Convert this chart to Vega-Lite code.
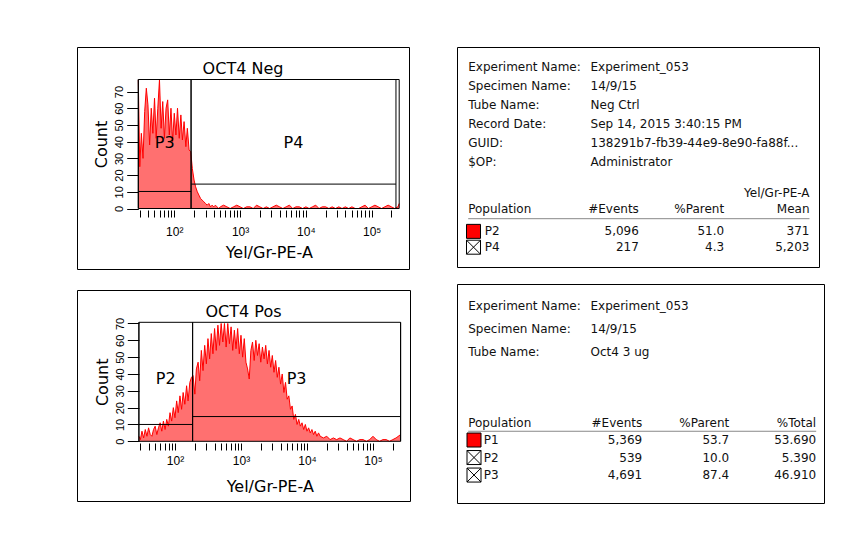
{
  "$schema": "https://vega.github.io/schema/vega-lite/v6.json",
  "padding": {"left": 76, "top": 46, "right": 4, "bottom": 4},
  "background": "white",
  "config": {
    "font": "DejaVu Sans",
    "view": {"stroke": "#000", "strokeWidth": 1},
    "text": {"font": "DejaVu Sans", "fontSize": 12, "color": "#111"},
    "title": {"font": "DejaVu Sans", "fontSize": 16, "fontWeight": "normal", "color": "#000", "anchor": "middle", "frame": "group"},
    "axis": {"labelFont": "DejaVu Sans", "titleFont": "DejaVu Sans", "titleFontWeight": "normal", "labelColor": "#000", "titleColor": "#000", "tickColor": "#000", "domain": false, "grid": false, "labelFontSize": 11, "titleFontSize": 16, "labelOverlap": false, "labelBound": false, "labelFlush": false},
    "axisY": {"tickCount": 8, "labelOverlap": false}
  },
  "datasets": {
    "neg": [
      {"v":28.4,"c":77},{"v":29.9,"c":25},{"v":31.6,"c":45},{"v":33.5,"c":30},{"v":35.5,"c":58},{"v":37.6,"c":72},{"v":39.8,"c":62},{"v":42.2,"c":38},{"v":44.7,"c":60},{"v":47.3,"c":45},{"v":50.1,"c":66},{"v":53.1,"c":42},{"v":56.2,"c":60},{"v":59.6,"c":77},{"v":63.1,"c":48},{"v":66.8,"c":64},{"v":70.8,"c":42},{"v":75,"c":60},{"v":79.4,"c":65},{"v":84.1,"c":44},{"v":89.1,"c":60},{"v":94.4,"c":40},{"v":100,"c":57},{"v":106,"c":44},{"v":112,"c":60},{"v":119,"c":42},{"v":126,"c":56},{"v":133,"c":41},{"v":141,"c":52},{"v":150,"c":37},{"v":158,"c":48},{"v":168,"c":35},{"v":178,"c":34},{"v":188,"c":24},{"v":200,"c":17},{"v":211,"c":13},{"v":224,"c":10},{"v":237,"c":8},{"v":251,"c":6},{"v":266,"c":5},{"v":282,"c":4},{"v":299,"c":3},{"v":316,"c":2},{"v":335,"c":3},{"v":355,"c":1},{"v":376,"c":2},{"v":398,"c":1},{"v":422,"c":2},{"v":447,"c":1},{"v":473,"c":0},
      {"v":501,"c":1},{"v":562,"c":2},{"v":631,"c":1},{"v":708,"c":0},{"v":794,"c":1},{"v":891,"c":2},{"v":1000,"c":1},{"v":1122,"c":0},{"v":1259,"c":1},{"v":1413,"c":1},{"v":1585,"c":0},{"v":1778,"c":2},{"v":1995,"c":1},{"v":2239,"c":0},{"v":2512,"c":1},{"v":2818,"c":0},{"v":3162,"c":1},{"v":3548,"c":2},{"v":3981,"c":1},{"v":4467,"c":0},{"v":5012,"c":1},{"v":5623,"c":2},{"v":6310,"c":0},{"v":7079,"c":1},{"v":7943,"c":1},{"v":8913,"c":0},{"v":10000,"c":1},{"v":11220,"c":0},{"v":12589,"c":1},{"v":14125,"c":2},{"v":15849,"c":0},{"v":17783,"c":1},{"v":19953,"c":1},{"v":22387,"c":0},{"v":25119,"c":1},{"v":28184,"c":0},{"v":31623,"c":1},{"v":35481,"c":0},{"v":39811,"c":1},{"v":44668,"c":0},{"v":50119,"c":1},{"v":56234,"c":0},{"v":63096,"c":0},{"v":70795,"c":1},{"v":79433,"c":2},{"v":89125,"c":0},{"v":100000,"c":1},{"v":112202,"c":2},{"v":125893,"c":1},{"v":141254,"c":0},{"v":158489,"c":1},{"v":177828,"c":2},{"v":199526,"c":1},{"v":223872,"c":0},{"v":251189,"c":1},{"v":262144,"c":3}
    ],
    "pos": [
      {"v":28.4,"c":3},{"v":29.9,"c":1},{"v":31.6,"c":6},{"v":33.5,"c":2},{"v":35.5,"c":7},{"v":37.6,"c":3},{"v":39.8,"c":8},{"v":42.2,"c":4},{"v":44.7,"c":3},{"v":47.3,"c":7},{"v":50.1,"c":9},{"v":53.1,"c":4},{"v":56.2,"c":8},{"v":59.6,"c":11},{"v":63.1,"c":6},{"v":66.8,"c":12},{"v":70.8,"c":7},{"v":75,"c":13},{"v":79.4,"c":9},{"v":84.1,"c":17},{"v":89.1,"c":12},{"v":94.4,"c":20},{"v":100,"c":14},{"v":106,"c":24},{"v":112,"c":17},{"v":119,"c":27},{"v":126,"c":19},{"v":133,"c":29},{"v":141,"c":22},{"v":150,"c":33},{"v":158,"c":24},{"v":168,"c":35},{"v":178,"c":38},{"v":188,"c":39},{"v":200,"c":28},{"v":211,"c":43},{"v":224,"c":47},{"v":237,"c":36},{"v":251,"c":54},{"v":266,"c":42},{"v":282,"c":57},{"v":299,"c":46},{"v":316,"c":61},{"v":335,"c":49},{"v":355,"c":64},{"v":376,"c":52},{"v":398,"c":67},{"v":422,"c":54},{"v":447,"c":69},{"v":473,"c":57},{"v":501,"c":70},{"v":531,"c":59},{"v":562,"c":70},{"v":596,"c":56},{"v":631,"c":70},{"v":668,"c":58},{"v":708,"c":68},{"v":750,"c":54},{"v":794,"c":66},{"v":841,"c":55},{"v":891,"c":67},{"v":944,"c":52},{"v":1000,"c":63},{"v":1059,"c":50},{"v":1122,"c":61},{"v":1189,"c":47},{"v":1259,"c":43},{"v":1334,"c":37},{"v":1413,"c":54},{"v":1496,"c":59},{"v":1585,"c":48},{"v":1679,"c":60},{"v":1778,"c":51},{"v":1884,"c":58},{"v":1995,"c":47},{"v":2113,"c":56},{"v":2239,"c":49},{"v":2371,"c":57},{"v":2512,"c":46},{"v":2661,"c":54},{"v":2818,"c":44},{"v":2985,"c":51},{"v":3162,"c":41},{"v":3350,"c":48},{"v":3548,"c":38},{"v":3758,"c":44},{"v":3981,"c":34},{"v":4217,"c":40},{"v":4467,"c":29},{"v":4732,"c":35},{"v":5012,"c":25},{"v":5309,"c":27},{"v":5623,"c":19},{"v":5957,"c":21},{"v":6310,"c":13},{"v":6683,"c":16},{"v":7079,"c":10},{"v":7499,"c":13},{"v":7943,"c":9},{"v":8414,"c":11},{"v":8913,"c":7},{"v":9441,"c":10},{"v":10000,"c":6},{"v":10593,"c":8},{"v":11220,"c":5},{"v":11885,"c":7},{"v":12589,"c":4},{"v":13335,"c":6},{"v":14125,"c":3},{"v":14962,"c":5},{"v":15849,"c":3},
      {"v":17783,"c":2},{"v":19953,"c":3},{"v":22387,"c":1},{"v":25119,"c":2},{"v":28184,"c":1},{"v":31623,"c":2},{"v":35481,"c":1},{"v":39811,"c":0},{"v":44668,"c":2},{"v":50119,"c":1},{"v":56234,"c":0},{"v":63096,"c":1},{"v":70795,"c":1},{"v":79433,"c":0},{"v":89125,"c":1},{"v":100000,"c":3},{"v":112202,"c":1},{"v":125893,"c":0},{"v":141254,"c":1},{"v":158489,"c":1},{"v":177828,"c":0},{"v":199526,"c":1},{"v":223872,"c":2},{"v":262144,"c":4}
    ],
    "negGates": [
      {"gate":"P3","lo":28.4,"hi":180,"level":10.2},
      {"gate":"P4","lo":180,"hi":234000,"level":14.6}
    ],
    "posGates": [
      {"gate":"P2","lo":28.4,"hi":185,"level":10},
      {"gate":"P3","lo":185,"hi":262144,"level":14.7}
    ],
    "negTable": [
      {"line":0,"col":"label","text":"Experiment Name:"},{"line":0,"col":"value","text":"Experiment_053"},
      {"line":6,"col":"label","text":"Specimen Name:"},{"line":6,"col":"value","text":"14/9/15"},
      {"line":12,"col":"label","text":"Tube Name:"},{"line":12,"col":"value","text":"Neg Ctrl"},
      {"line":18,"col":"label","text":"Record Date:"},{"line":18,"col":"value","text":"Sep 14, 2015 3:40:15 PM"},
      {"line":24,"col":"label","text":"GUID:"},{"line":24,"col":"value","text":"138291b7-fb39-44e9-8e90-fa88f..."},
      {"line":30,"col":"label","text":"$OP:"},{"line":30,"col":"value","text":"Administrator"},
      {"line":40,"col":"stat","text":"Yel/Gr-PE-A"},
      {"line":45,"col":"label","text":"Population"},{"line":45,"col":"events","text":"#Events"},{"line":45,"col":"parent","text":"%Parent"},{"line":45,"col":"stat","text":"Mean"},
      {"line":52,"col":"events","text":"5,096"},{"line":52,"col":"parent","text":"51.0"},{"line":52,"col":"stat","text":"371"},
      {"line":57,"col":"events","text":"217"},{"line":57,"col":"parent","text":"4.3"},{"line":57,"col":"stat","text":"5,203"}
    ],
    "negPops": [
      {"line":52,"pop":"P2","display":"colored"},
      {"line":57,"pop":"P4","display":"hidden"}
    ],
    "posTable": [
      {"line":0,"col":"label","text":"Experiment Name:"},{"line":0,"col":"value","text":"Experiment_053"},
      {"line":4,"col":"label","text":"Specimen Name:"},{"line":4,"col":"value","text":"14/9/15"},
      {"line":8,"col":"label","text":"Tube Name:"},{"line":8,"col":"value","text":"Oct4 3 ug"},
      {"line":20,"col":"label","text":"Population"},{"line":20,"col":"events","text":"#Events"},{"line":20,"col":"parent","text":"%Parent"},{"line":20,"col":"stat","text":"%Total"},
      {"line":23,"col":"events","text":"5,369"},{"line":23,"col":"parent","text":"53.7"},{"line":23,"col":"stat","text":"53.690"},
      {"line":26,"col":"events","text":"539"},{"line":26,"col":"parent","text":"10.0"},{"line":26,"col":"stat","text":"5.390"},
      {"line":29,"col":"events","text":"4,691"},{"line":29,"col":"parent","text":"87.4"},{"line":29,"col":"stat","text":"46.910"}
    ],
    "posPops": [
      {"line":23,"pop":"P1","display":"colored"},
      {"line":26,"pop":"P2","display":"hidden"},
      {"line":29,"pop":"P3","display":"hidden"}
    ]
  },
  "spacing": 45,
  "hconcat": [
    {
      "spacing": 19,
      "vconcat": [
        {
          "width": 332, "height": 222,
          "title": {"text": "OCT4 Neg", "offset": -30},
          "layer": [
            {"data": {"name": "neg"}, "mark": {"type": "area", "color": "#ff7070", "clip": true},
             "encoding": {
               "x": {"field": "v", "type": "quantitative", "scale": {"type": "log", "domain": [28.4, 262144], "range": [61.3, 322.2], "nice": false},
                     "axis": {"title": "Yel/Gr-PE-A", "offset": -59, "tickSize": 7, "labelPadding": 9, "titlePadding": 7, "labelFont": "Liberation Sans", "labelFontSize": 12, "labelOverlap": false,
                              "values": [30,40,50,60,70,80,90,100,200,300,400,500,600,700,800,900,1000,2000,3000,4000,5000,6000,7000,8000,9000,10000,20000,30000,40000,50000,60000,70000,80000,90000,100000,200000],
                              "labelExpr": "datum.value == 100 ? '10²' : datum.value == 1000 ? '10³' : datum.value == 10000 ? '10⁴' : datum.value == 100000 ? '10⁵' : ''"}},
               "y": {"field": "c", "type": "quantitative", "scale": {"domain": [0, 77.2], "range": [161.5, 32.5], "nice": false, "zero": false},
                     "axis": {"title": "Count", "offset": -61.3, "tickSize": 11.6, "values": [0,10,20,30,40,50,60,70], "tickCount": 8, "labelOverlap": false, "labelAngle": -90, "labelAlign": "center", "labelBaseline": "bottom", "labelPadding": 2, "titlePadding": 4, "labelFont": "Liberation Sans"}}
             }},
            {"data": {"name": "neg"}, "mark": {"type": "line", "color": "#ff0000", "strokeWidth": 1, "clip": true},
             "encoding": {
               "x": {"field": "v", "type": "quantitative", "scale": {"type": "log", "domain": [28.4, 262144], "range": [61.3, 322.2], "nice": false}},
               "y": {"field": "c", "type": "quantitative", "scale": {"domain": [0, 77.2], "range": [161.5, 32.5], "nice": false, "zero": false},
                     "axis": {"title": "Count", "offset": -61.3, "tickSize": 11.6, "values": [0,10,20,30,40,50,60,70], "tickCount": 8, "labelOverlap": false, "labelAngle": -90, "labelAlign": "center", "labelBaseline": "bottom", "labelPadding": 2, "titlePadding": 4, "labelFont": "Liberation Sans"}}
             }},
            {"data": {"values": [{}]}, "mark": {"type": "rect", "filled": false, "stroke": "#000", "strokeWidth": 1},
             "encoding": {
               "x": {"datum": 28.4, "type": "quantitative", "scale": {"type": "log", "domain": [28.4, 262144], "range": [61.3, 322.2], "nice": false}},
               "x2": {"datum": 262144},
               "y": {"datum": 0, "type": "quantitative", "scale": {"domain": [0, 77.2], "range": [161.5, 32.5], "nice": false, "zero": false}},
               "y2": {"datum": 77.2}
             }},
            {"data": {"name": "negGates"}, "mark": {"type": "rule", "color": "#000", "strokeWidth": 1},
             "encoding": {
               "x": {"field": "lo", "type": "quantitative", "scale": {"type": "log", "domain": [28.4, 262144], "range": [61.3, 322.2], "nice": false}},
               "y": {"datum": 0, "type": "quantitative", "scale": {"domain": [0, 77.2], "range": [161.5, 32.5], "nice": false, "zero": false}},
               "y2": {"datum": 77.2}
             }},
            {"data": {"name": "negGates"}, "mark": {"type": "rule", "color": "#000", "strokeWidth": 1},
             "encoding": {
               "x": {"field": "hi", "type": "quantitative", "scale": {"type": "log", "domain": [28.4, 262144], "range": [61.3, 322.2], "nice": false}},
               "y": {"datum": 0, "type": "quantitative", "scale": {"domain": [0, 77.2], "range": [161.5, 32.5], "nice": false, "zero": false}},
               "y2": {"datum": 77.2}
             }},
            {"data": {"name": "negGates"}, "mark": {"type": "rule", "color": "#000", "strokeWidth": 1},
             "encoding": {
               "x": {"field": "lo", "type": "quantitative", "scale": {"type": "log", "domain": [28.4, 262144], "range": [61.3, 322.2], "nice": false}},
               "x2": {"field": "hi"},
               "y": {"field": "level", "type": "quantitative", "scale": {"domain": [0, 77.2], "range": [161.5, 32.5], "nice": false, "zero": false}}
             }},
            {"data": {"name": "negGates"}, "transform": [{"calculate": "sqrt(datum.lo * datum.hi)", "as": "mid"}],
             "mark": {"type": "text", "fontSize": 16, "color": "#000", "baseline": "middle"},
             "encoding": {
               "x": {"field": "mid", "type": "quantitative", "scale": {"type": "log", "domain": [28.4, 262144], "range": [61.3, 322.2], "nice": false}},
               "y": {"datum": 39, "type": "quantitative", "scale": {"domain": [0, 77.2], "range": [161.5, 32.5], "nice": false, "zero": false}},
               "text": {"field": "gate"}
             }}
          ]
        },
        {
          "width": 333, "height": 211,
          "title": {"text": "OCT4 Pos", "offset": -30},
          "layer": [
            {"data": {"name": "pos"}, "mark": {"type": "area", "color": "#ff7070", "clip": true},
             "encoding": {
               "x": {"field": "v", "type": "quantitative", "scale": {"type": "log", "domain": [28.4, 262144], "range": [61.9, 323.6], "nice": false},
                     "axis": {"title": "Yel/Gr-PE-A", "offset": -58, "tickSize": 7, "labelPadding": 5, "titlePadding": 12, "labelFont": "Liberation Sans", "labelFontSize": 12, "labelOverlap": false,
                              "values": [30,40,50,60,70,80,90,100,200,300,400,500,600,700,800,900,1000,2000,3000,4000,5000,6000,7000,8000,9000,10000,20000,30000,40000,50000,60000,70000,80000,90000,100000,200000],
                              "labelExpr": "datum.value == 100 ? '10²' : datum.value == 1000 ? '10³' : datum.value == 10000 ? '10⁴' : datum.value == 100000 ? '10⁵' : ''"}},
               "y": {"field": "c", "type": "quantitative", "scale": {"domain": [0, 70.7], "range": [151.3, 32.3], "nice": false, "zero": false},
                     "axis": {"title": "Count", "offset": -61.9, "tickSize": 11.6, "values": [0,10,20,30,40,50,60,70], "tickCount": 8, "labelOverlap": false, "labelAngle": -90, "labelAlign": "center", "labelBaseline": "bottom", "labelPadding": 2, "titlePadding": 4, "labelFont": "Liberation Sans"}}
             }},
            {"data": {"name": "pos"}, "mark": {"type": "line", "color": "#ff0000", "strokeWidth": 1, "clip": true},
             "encoding": {
               "x": {"field": "v", "type": "quantitative", "scale": {"type": "log", "domain": [28.4, 262144], "range": [61.9, 323.6], "nice": false}},
               "y": {"field": "c", "type": "quantitative", "scale": {"domain": [0, 70.7], "range": [151.3, 32.3], "nice": false, "zero": false},
                     "axis": {"title": "Count", "offset": -61.9, "tickSize": 11.6, "values": [0,10,20,30,40,50,60,70], "tickCount": 8, "labelOverlap": false, "labelAngle": -90, "labelAlign": "center", "labelBaseline": "bottom", "labelPadding": 2, "titlePadding": 4, "labelFont": "Liberation Sans"}}
             }},
            {"data": {"values": [{}]}, "mark": {"type": "rect", "filled": false, "stroke": "#000", "strokeWidth": 1},
             "encoding": {
               "x": {"datum": 28.4, "type": "quantitative", "scale": {"type": "log", "domain": [28.4, 262144], "range": [61.9, 323.6], "nice": false}},
               "x2": {"datum": 262144},
               "y": {"datum": 0, "type": "quantitative", "scale": {"domain": [0, 70.7], "range": [151.3, 32.3], "nice": false, "zero": false}},
               "y2": {"datum": 70.7}
             }},
            {"data": {"name": "posGates"}, "mark": {"type": "rule", "color": "#000", "strokeWidth": 1},
             "encoding": {
               "x": {"field": "lo", "type": "quantitative", "scale": {"type": "log", "domain": [28.4, 262144], "range": [61.9, 323.6], "nice": false}},
               "y": {"datum": 0, "type": "quantitative", "scale": {"domain": [0, 70.7], "range": [151.3, 32.3], "nice": false, "zero": false}},
               "y2": {"datum": 70.7}
             }},
            {"data": {"name": "posGates"}, "mark": {"type": "rule", "color": "#000", "strokeWidth": 1},
             "encoding": {
               "x": {"field": "hi", "type": "quantitative", "scale": {"type": "log", "domain": [28.4, 262144], "range": [61.9, 323.6], "nice": false}},
               "y": {"datum": 0, "type": "quantitative", "scale": {"domain": [0, 70.7], "range": [151.3, 32.3], "nice": false, "zero": false}},
               "y2": {"datum": 70.7}
             }},
            {"data": {"name": "posGates"}, "mark": {"type": "rule", "color": "#000", "strokeWidth": 1},
             "encoding": {
               "x": {"field": "lo", "type": "quantitative", "scale": {"type": "log", "domain": [28.4, 262144], "range": [61.9, 323.6], "nice": false}},
               "x2": {"field": "hi"},
               "y": {"field": "level", "type": "quantitative", "scale": {"domain": [0, 70.7], "range": [151.3, 32.3], "nice": false, "zero": false}}
             }},
            {"data": {"name": "posGates"}, "transform": [{"calculate": "sqrt(datum.lo * datum.hi)", "as": "mid"}],
             "mark": {"type": "text", "fontSize": 16, "color": "#000", "baseline": "middle"},
             "encoding": {
               "x": {"field": "mid", "type": "quantitative", "scale": {"type": "log", "domain": [28.4, 262144], "range": [61.9, 323.6], "nice": false}},
               "y": {"datum": 37, "type": "quantitative", "scale": {"domain": [0, 70.7], "range": [151.3, 32.3], "nice": false, "zero": false}},
               "text": {"field": "gate"}
             }}
          ]
        }
      ]
    },
    {
      "spacing": 15,
      "vconcat": [
        {
          "width": 362, "height": 220,
          "layer": [
            {"data": {"name": "negTable"}, "transform": [{"filter": "datum.col == 'label'"}],
             "mark": {"type": "text", "align": "left", "baseline": "middle"},
             "encoding": {
               "x": {"field": "col", "type": "nominal", "scale": {"type": "point", "domain": ["label","value","events","parent","stat"], "range": [11.2, 352.5], "padding": 0}, "axis": null},
               "y": {"field": "line", "type": "quantitative", "scale": {"domain": [0, 60], "range": [19.7, 209.7], "nice": false, "zero": false}, "axis": null},
               "text": {"field": "text"}}},
            {"data": {"name": "negTable"}, "transform": [{"filter": "datum.col == 'value'"}],
             "mark": {"type": "text", "align": "left", "baseline": "middle", "dx": 37},
             "encoding": {
               "x": {"field": "col", "type": "nominal", "scale": {"type": "point", "domain": ["label","value","events","parent","stat"], "range": [11.2, 352.5], "padding": 0}, "axis": null},
               "y": {"field": "line", "type": "quantitative", "scale": {"domain": [0, 60], "range": [19.7, 209.7], "nice": false, "zero": false}, "axis": null},
               "text": {"field": "text"}}},
            {"data": {"name": "negTable"}, "transform": [{"filter": "datum.col == 'events' || datum.col == 'parent' || datum.col == 'stat'"}],
             "mark": {"type": "text", "align": "right", "baseline": "middle"},
             "encoding": {
               "x": {"field": "col", "type": "nominal", "scale": {"type": "point", "domain": ["label","value","events","parent","stat"], "range": [11.2, 352.5], "padding": 0}, "axis": null},
               "y": {"field": "line", "type": "quantitative", "scale": {"domain": [0, 60], "range": [19.7, 209.7], "nice": false, "zero": false}, "axis": null},
               "text": {"field": "text"}}},
            {"data": {"values": [{}]}, "mark": {"type": "rule", "color": "#888", "strokeWidth": 1},
             "encoding": {
               "x": {"datum": "label", "type": "nominal", "scale": {"type": "point", "domain": ["label","value","events","parent","stat"], "range": [11.2, 352.5], "padding": 0}, "axis": null},
               "x2": {"datum": "stat"},
               "y": {"datum": 48, "type": "quantitative", "scale": {"domain": [0, 60], "range": [19.7, 209.7], "nice": false, "zero": false}, "axis": null}}},
            {"data": {"name": "negPops"}, "mark": {"type": "point", "shape": "square", "size": 196, "filled": true, "stroke": "#000", "strokeWidth": 1, "opacity": 1, "xOffset": 5.3},
             "encoding": {
               "x": {"datum": "label", "type": "nominal", "scale": {"type": "point", "domain": ["label","value","events","parent","stat"], "range": [11.2, 352.5], "padding": 0}, "axis": null},
               "y": {"field": "line", "type": "quantitative", "scale": {"domain": [0, 60], "range": [19.7, 209.7], "nice": false, "zero": false}, "axis": null},
               "fill": {"field": "display", "type": "nominal", "scale": {"domain": ["colored","hidden"], "range": ["#ff0000","#ffffff"]}, "legend": null}}},
            {"data": {"name": "negPops"}, "transform": [{"filter": "datum.display == 'hidden'"}],
             "mark": {"type": "point", "shape": "M-1,-1L1,1M1,-1L-1,1", "size": 196, "filled": false, "stroke": "#000", "strokeWidth": 1, "opacity": 1, "xOffset": 5.3},
             "encoding": {
               "x": {"datum": "label", "type": "nominal", "scale": {"type": "point", "domain": ["label","value","events","parent","stat"], "range": [11.2, 352.5], "padding": 0}, "axis": null},
               "y": {"field": "line", "type": "quantitative", "scale": {"domain": [0, 60], "range": [19.7, 209.7], "nice": false, "zero": false}, "axis": null}}},
            {"data": {"name": "negPops"},
             "mark": {"type": "text", "align": "left", "baseline": "middle", "dx": 16.6},
             "encoding": {
               "x": {"datum": "label", "type": "nominal", "scale": {"type": "point", "domain": ["label","value","events","parent","stat"], "range": [11.2, 352.5], "padding": 0}, "axis": null},
               "y": {"field": "line", "type": "quantitative", "scale": {"domain": [0, 60], "range": [19.7, 209.7], "nice": false, "zero": false}, "axis": null},
               "text": {"field": "pop"}}}
          ]
        },
        {
          "width": 367, "height": 219,
          "layer": [
            {"data": {"name": "posTable"}, "transform": [{"filter": "datum.col == 'label'"}],
             "mark": {"type": "text", "align": "left", "baseline": "middle"},
             "encoding": {
               "x": {"field": "col", "type": "nominal", "scale": {"type": "point", "domain": ["label","value","events","parent","stat"], "range": [11.2, 359.2], "padding": 0}, "axis": null},
               "y": {"field": "line", "type": "quantitative", "scale": {"domain": [0, 30], "range": [21.7, 196.9], "nice": false, "zero": false}, "axis": null},
               "text": {"field": "text"}}},
            {"data": {"name": "posTable"}, "transform": [{"filter": "datum.col == 'value'"}],
             "mark": {"type": "text", "align": "left", "baseline": "middle", "dx": 35.3},
             "encoding": {
               "x": {"field": "col", "type": "nominal", "scale": {"type": "point", "domain": ["label","value","events","parent","stat"], "range": [11.2, 359.2], "padding": 0}, "axis": null},
               "y": {"field": "line", "type": "quantitative", "scale": {"domain": [0, 30], "range": [21.7, 196.9], "nice": false, "zero": false}, "axis": null},
               "text": {"field": "text"}}},
            {"data": {"name": "posTable"}, "transform": [{"filter": "datum.col == 'events' || datum.col == 'parent' || datum.col == 'stat'"}],
             "mark": {"type": "text", "align": "right", "baseline": "middle"},
             "encoding": {
               "x": {"field": "col", "type": "nominal", "scale": {"type": "point", "domain": ["label","value","events","parent","stat"], "range": [11.2, 359.2], "padding": 0}, "axis": null},
               "y": {"field": "line", "type": "quantitative", "scale": {"domain": [0, 30], "range": [21.7, 196.9], "nice": false, "zero": false}, "axis": null},
               "text": {"field": "text"}}},
            {"data": {"values": [{}]}, "mark": {"type": "rule", "color": "#888", "strokeWidth": 1},
             "encoding": {
               "x": {"datum": "label", "type": "nominal", "scale": {"type": "point", "domain": ["label","value","events","parent","stat"], "range": [11.2, 359.2], "padding": 0}, "axis": null},
               "x2": {"datum": "stat"},
               "y": {"datum": 21.5, "type": "quantitative", "scale": {"domain": [0, 30], "range": [21.7, 196.9], "nice": false, "zero": false}, "axis": null}}},
            {"data": {"name": "posPops"}, "mark": {"type": "point", "shape": "square", "size": 196, "filled": true, "stroke": "#000", "strokeWidth": 1, "opacity": 1, "xOffset": 5.8},
             "encoding": {
               "x": {"datum": "label", "type": "nominal", "scale": {"type": "point", "domain": ["label","value","events","parent","stat"], "range": [11.2, 359.2], "padding": 0}, "axis": null},
               "y": {"field": "line", "type": "quantitative", "scale": {"domain": [0, 30], "range": [21.7, 196.9], "nice": false, "zero": false}, "axis": null},
               "fill": {"field": "display", "type": "nominal", "scale": {"domain": ["colored","hidden"], "range": ["#ff0000","#ffffff"]}, "legend": null}}},
            {"data": {"name": "posPops"}, "transform": [{"filter": "datum.display == 'hidden'"}],
             "mark": {"type": "point", "shape": "M-1,-1L1,1M1,-1L-1,1", "size": 196, "filled": false, "stroke": "#000", "strokeWidth": 1, "opacity": 1, "xOffset": 5.8},
             "encoding": {
               "x": {"datum": "label", "type": "nominal", "scale": {"type": "point", "domain": ["label","value","events","parent","stat"], "range": [11.2, 359.2], "padding": 0}, "axis": null},
               "y": {"field": "line", "type": "quantitative", "scale": {"domain": [0, 30], "range": [21.7, 196.9], "nice": false, "zero": false}, "axis": null}}},
            {"data": {"name": "posPops"},
             "mark": {"type": "text", "align": "left", "baseline": "middle", "dx": 15.6},
             "encoding": {
               "x": {"datum": "label", "type": "nominal", "scale": {"type": "point", "domain": ["label","value","events","parent","stat"], "range": [11.2, 359.2], "padding": 0}, "axis": null},
               "y": {"field": "line", "type": "quantitative", "scale": {"domain": [0, 30], "range": [21.7, 196.9], "nice": false, "zero": false}, "axis": null},
               "text": {"field": "pop"}}}
          ]
        }
      ]
    }
  ]
}
